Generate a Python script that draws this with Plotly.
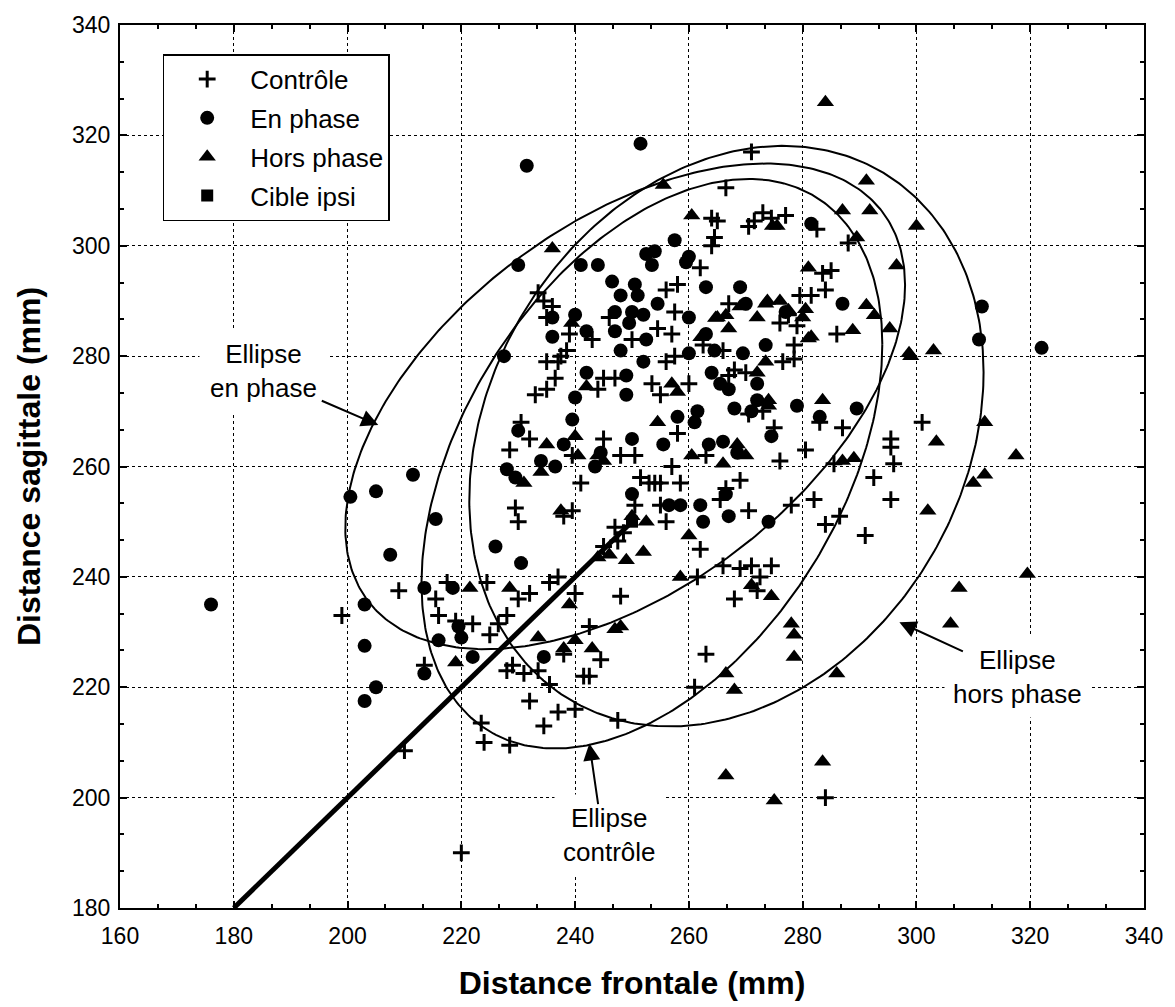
import numpy as np
import plotly.graph_objects as go

# ---------------- data ----------------
ctrl_x = [220, 284, 210, 224, 228.5, 223.5, 232, 234.5, 237, 240, 247.5, 241.5, 242.5, 244.5, 242.5,
          235.5, 233.5, 231, 229, 226.5, 228, 225, 222, 219, 216, 215.5, 217.5, 213.5, 199, 209,
          224.5, 230, 232, 235.5, 237, 238, 240, 248, 250.5, 248.5, 247.5, 247, 245, 255, 256,
          261.5, 262, 263, 261, 266, 268, 269, 271, 272.5, 274.5, 272, 284, 282, 278, 285.5,
          287, 286.5, 291, 292.5, 295.5, 295.5, 296, 295.5, 301, 276, 280.5, 283, 273, 275, 270.5,
          263, 265.5, 266.5, 269, 270.5, 258.5, 255, 253, 258, 257, 251.5, 250.5, 248, 245, 239.5,
          241, 239.5, 238, 230, 229.5, 228.5, 232, 230.5, 233, 235, 236.5, 237, 238.5, 239, 235,
          233.5, 234.5, 235, 236, 237.5, 244, 245, 243, 246, 247, 250, 254.5, 257, 257.5, 256,
          253.5, 255, 257.5, 260, 262.5, 264, 264.5, 264, 265, 262, 258, 256, 271.5, 273, 274.5,
          277, 270.5, 282.5, 285, 283.5, 284, 281.5, 279.5, 279, 278.5, 278.5, 276.5, 276, 277.5,
          286, 288, 267, 268, 270, 266, 267, 271, 266.5, 228, 254]
ctrl_y = [190, 200, 208.5, 210, 209.5, 213.5, 217.5, 213, 215.5, 216, 214, 222, 222, 225, 231,
          220.5, 223, 222.5, 224, 231.5, 233, 229.5, 231.5, 232, 233, 236, 239, 224, 233, 237.5,
          239, 236, 237, 239, 240, 226, 237, 236.5, 253, 248, 246.5, 249, 245.5, 253, 250,
          240, 245, 226, 220, 242, 236, 241.5, 242, 240, 242, 237.5, 249.5, 254, 253, 260.5,
          267, 251, 247.5, 258, 263.5, 265, 260.5, 254, 268, 261, 263, 268, 270, 267, 269.5,
          262, 254, 256, 257.5, 252, 257, 257, 257, 266, 260, 258, 262, 262, 265, 262,
          257, 252, 251, 250, 252.5, 263, 265, 268, 273, 274, 276, 279, 281, 284, 279,
          291.5, 290, 287, 289, 280, 274, 276, 283, 287, 276, 283, 285, 284, 280, 279,
          275, 273, 288, 275, 282, 300, 301.5, 305, 304.5, 296, 293, 292, 304.5, 306, 305,
          305.5, 303.5, 303, 295.5, 295, 292, 291, 291, 285.5, 282, 279.5, 279, 286, 287.5,
          284, 300.5, 289.5, 277.5, 277, 281, 276.5, 317, 310.5, 223, 257]

enph_x = [176, 231.5, 251.5, 200.5, 205, 207.5, 203, 203, 203, 205, 211.5, 215.5, 213.5, 213.5,
          218.5, 219.5, 220, 216, 222, 226, 227.5, 228, 230, 230, 230.5, 229.5, 234.5, 234, 236,
          236, 236.5, 238, 239.5, 240, 240, 241, 242, 242, 244, 244.5, 243.5, 246.5, 247, 247,
          248, 248, 249, 249, 249.5, 250, 250, 250, 250.5, 251, 252, 252.5, 252.5, 252, 253.5,
          254, 254.5, 255.5, 256.5, 257.5, 258, 258.5, 259.5, 260, 260, 260, 261, 261.5, 262,
          262.5, 263, 263.5, 264, 264.5, 265.5, 266, 266.5, 267, 267, 268, 268.5, 269, 269.5,
          270, 271, 272, 272, 273.5, 274.5, 274, 277, 279, 281.5, 283, 287, 289.5, 311.5, 311,
          322, 263]
enph_y = [235, 314.5, 318.5, 254.5, 255.5, 244, 235, 227.5, 217.5, 220, 258.5, 250.5, 238, 222.5,
          238, 231, 229, 228.5, 225.5, 245.5, 280, 259.5, 296.5, 266.5, 242.5, 258, 225.5, 261, 287,
          283.5, 260, 264, 268.5, 272.5, 287.5, 296.5, 277, 284.5, 296.5, 262.5, 260, 293.5, 288, 284.5,
          281, 291, 276.5, 273, 286, 255, 265, 288, 293, 291, 287.5, 283, 298.5, 279, 296.5,
          299, 289.5, 264, 253, 301, 269, 253, 297, 298, 280.5, 287, 268, 270, 253,
          250, 292.5, 264, 277, 281, 275, 264.5, 255, 251, 274, 270.5, 262.5, 292.5, 280.5,
          289.5, 270, 275, 272, 282, 265.5, 250, 288, 271, 304, 269, 289.5, 270.5, 289, 283,
          281.5, 284]

hors_x = [284, 236, 255.5, 260.5, 239.4, 264.7, 266.5, 262.1, 291.2, 287, 291.8, 300, 289.5, 275.5,
          274.7, 296.5, 281, 273.8, 277.5, 291.2, 292.6, 295.3, 288.8, 281, 298.7, 303, 273.5, 272,
          303.5, 307.5, 306, 302, 310, 312, 312, 317.5, 319.5, 299, 275, 266.5, 283.5, 286, 278.5,
          278.5, 278, 268, 266.5, 274.5, 271, 258.5, 248, 247, 243, 240, 239, 238, 233.5, 228.5,
          221.5, 219, 244, 246, 249, 252, 252.5, 250, 237.5, 234, 235, 240, 240.5, 244, 245, 242,
          231, 254.5, 257, 258, 260.5, 260, 266, 268.5, 270, 272, 274, 274, 273.5, 265, 267, 269,
          276, 280, 280.5, 281.5, 289, 287, 283.5]
hors_y = [326, 299.5, 311, 305.5, 286, 286.9, 287.4, 283.4, 311.8, 306.4, 306.4, 303.6, 301.5, 303.6,
          303.6, 296.4, 296, 290, 288.3, 289.2, 287.4, 285, 284.7, 283.2, 280.5, 281, 289.5, 287,
          264.5, 238, 231.5, 252, 257, 258.5, 268, 262, 240.5, 280, 199.5, 204, 206.5, 222.5, 225.5,
          229.5, 231.5, 219.5, 222.5, 236.5, 238.5, 240, 231, 230.5, 227, 228.5, 235, 227, 229, 238,
          238, 224.5, 243.5, 244, 243, 244.5, 250, 251, 252, 259, 264, 265.5, 262, 262, 261, 274.5,
          257, 268, 275, 273.5, 262, 247.5, 260.5, 264, 262, 277, 271, 272, 279, 287, 285, 289,
          290, 287, 288.5, 283.5, 261.5, 261, 272]

cible_x = [250]
cible_y = [250]

# target line (origin of movement -> target)
line_x = [180, 250]
line_y = [180, 250]

# ellipse parameters: control, en phase, hors phase
ell_names = ["Ellipse contrôle", "Ellipse en phase", "Ellipse hors phase"]
ell_cx = [253.5, 248.8, 266.6]
ell_cy = [260.5, 270.9, 265.5]
ell_wx = [40.5, 49.2, 45.2]
ell_wy = [51.6, 44.0, 52.6]
ell_cosd = [0.42, 0.5, 0.22]

x_ticks = [160, 180, 200, 220, 240, 260, 280, 300, 320, 340]
y_ticks = [180, 200, 220, 240, 260, 280, 300, 320, 340]

FONT = "Liberation Sans, Arial, Helvetica, sans-serif"

fig = go.Figure()

# ellipses
t = np.linspace(0, 2 * np.pi, 400)
for cx, cy, wx, wy, cd, nm in zip(ell_cx, ell_cy, ell_wx, ell_wy, ell_cosd, ell_names):
    d = np.arccos(cd)
    fig.add_trace(go.Scatter(x=cx + wx * np.cos(t), y=cy + wy * np.cos(t - d), mode="lines",
                             line=dict(color="black", width=2), showlegend=False, name=nm,
                             hoverinfo="skip"))

fig.add_trace(go.Scatter(x=line_x, y=line_y, mode="lines", line=dict(color="black", width=5),
                         showlegend=False, hoverinfo="skip"))

fig.add_trace(go.Scatter(x=ctrl_x, y=ctrl_y, mode="markers", name="Contrôle", legendgroup="a",
                         marker=dict(symbol="cross-thin", size=12, line=dict(color="black", width=3),
                                     color="black")))
fig.add_trace(go.Scatter(x=enph_x, y=enph_y, mode="markers", name="En phase", legendgroup="b",
                         marker=dict(symbol="circle", size=14, color="black")))
fig.add_trace(go.Scatter(x=hors_x, y=hors_y, mode="markers", name="Hors phase", legendgroup="c",
                         marker=dict(symbol="triangle-up", size=15, color="black")))
fig.add_trace(go.Scatter(x=cible_x, y=cible_y, mode="markers", name="Cible ipsi", legendgroup="d",
                         marker=dict(symbol="square", size=12, color="black")))

axis_common = dict(
    showline=True, linecolor="black", linewidth=2, mirror="ticks",
    ticks="inside", ticklen=7, tickwidth=1.5, tickcolor="black",
    showgrid=True, gridcolor="black", griddash="dot", gridwidth=1,
    zeroline=False, tickfont=dict(family=FONT, size=23, color="black"),
    minor=dict(dtick=20 / 3, ticks="inside", ticklen=4, tickcolor="black", showgrid=False),
)

fig.update_xaxes(range=[160, 340], tickvals=x_ticks, ticktext=[str(v) for v in x_ticks],
                 ticklabelstandoff=6,
                 title=dict(text="<b>Distance frontale (mm)</b>", font=dict(family=FONT, size=32, color="black"),
                            standoff=24),
                 **axis_common)
fig.update_xaxes(minor_tick0=160)
fig.update_yaxes(range=[180, 340], tickvals=y_ticks, ticktext=[str(v) for v in y_ticks],
                 ticklabelstandoff=3,
                 title=dict(text="<b>Distance sagittale (mm)</b>", font=dict(family=FONT, size=32, color="black"),
                            standoff=22),
                 **axis_common)
fig.update_yaxes(minor_tick0=180)

ann_font = dict(family=FONT, size=26, color="black")
annotations = [
    dict(x=185.3, y=277.3, text="Ellipse<br>en phase", showarrow=False, font=ann_font,
         bgcolor="white", borderpad=10),
    dict(x=317.8, y=221.9, text="Ellipse<br>hors phase", showarrow=False, font=ann_font,
         bgcolor="white", borderpad=8),
    dict(x=246, y=193.2, text="Ellipse<br>contrôle", showarrow=False, font=ann_font,
         bgcolor="white", borderpad=8),
    dict(x=205.4, y=267.5, ax=-58, ay=-25, text="", showarrow=True, arrowhead=2, arrowsize=1.7,
         arrowwidth=2, arrowcolor="black"),
    dict(x=297, y=231.8, ax=65, ay=30, text="", showarrow=True, arrowhead=2, arrowsize=1.7,
         arrowwidth=2, arrowcolor="black"),
    dict(x=242.5, y=209.8, ax=9, ay=62, text="", showarrow=True, arrowhead=2, arrowsize=1.7,
         arrowwidth=2, arrowcolor="black"),
]

fig.update_layout(
    width=1175, height=1007,
    margin=dict(l=120, r=23, t=23, b=97),
    plot_bgcolor="white", paper_bgcolor="white",
    font=dict(family=FONT, color="black"),
    annotations=annotations,
    legend=dict(x=0.0417, y=0.967, xanchor="left", yanchor="top", bgcolor="white",
                bordercolor="black", borderwidth=1.5, font=dict(family=FONT, size=26, color="black"),
                tracegroupgap=2, itemsizing="trace", itemwidth=76),
    showlegend=True,
)

fig.write_html("out.html")
